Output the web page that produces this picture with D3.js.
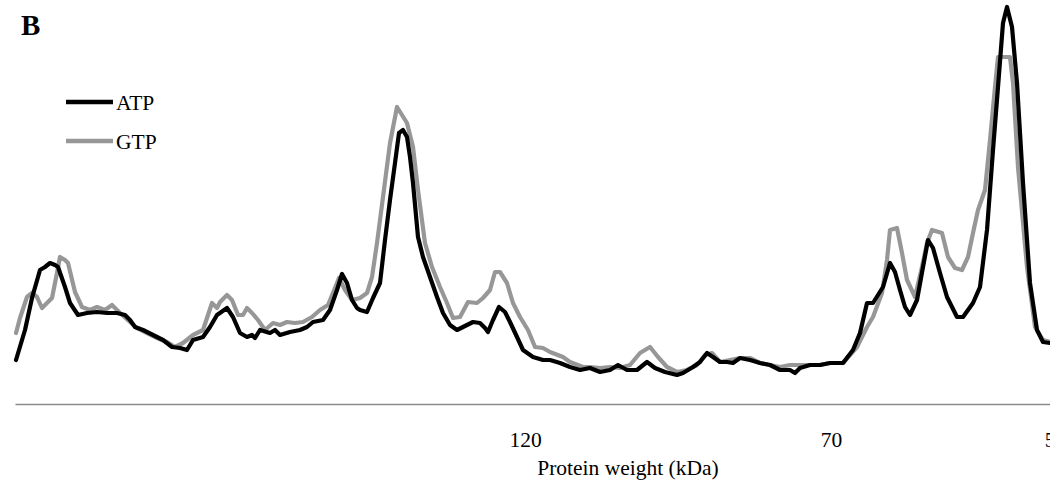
<!DOCTYPE html>
<html>
  <head>
    <meta charset="utf-8">
    <title>Protein weight profile</title>
<style>
body { margin: 0; background: #fff; }
svg text { font-family: "Liberation Serif", "Times New Roman", serif; fill: #000; }
.line { fill: none; stroke-width: 4.2px; stroke-linejoin: round; stroke-linecap: round; }
</style>
    <script src="https://d3js.org/d3.v7.min.js"></script>
  </head>
  <body>
    <script type="text/javascript">

    // lane position and intensity, per nucleotide
    var atpPos = [1,10,17,25,30,35,40,43,50,55,63,72,82,92,102,110,115,120,128,138,148,157,165,172,178,188,195,202,212,218,225,232,237,240,245,255,260,265,275,285,292,298,308,315,322,327,332,337,342,345,352,358,365,370,375,380,384,388,392,395,398,403,408,415,422,428,435,442,448,458,465,470,473,478,484,490,495,502,508,518,528,535,545,555,565,575,585,595,603,612,622,632,640,650,662,668,678,685,692,698,705,712,718,725,735,745,755,765,775,780,785,795,805,815,828,838,845,852,858,868,875,880,885,890,895,902,908,913,918,925,932,942,948,958,965,972,978,983,988,992,997,1002,1008,1015,1022,1028,1035];
    var atpVal = [44,74,106,134,137,141,139,137,117,101,89,91,92,91,91,89,84,77,74,69,64,57,56,54,64,67,77,89,96,87,71,67,69,66,74,71,74,69,72,74,77,82,84,94,114,130,121,104,96,94,92,106,121,164,204,241,271,274,267,247,221,167,147,127,107,91,79,74,77,82,81,76,72,84,97,92,82,67,54,47,44,44,41,37,34,36,32,34,39,34,34,42,36,32,29,31,37,42,51,47,42,42,41,46,44,41,39,34,34,31,36,39,39,41,41,54,71,101,101,117,141,132,114,97,89,104,137,164,156,131,107,87,87,101,117,174,254,317,381,397,377,321,221,121,74,62,61];

    var gtpPos = [1,5,12,17,22,27,32,37,42,45,50,53,60,67,75,82,90,97,105,115,122,132,142,152,160,168,178,188,197,202,205,212,217,223,228,232,237,243,250,258,265,272,280,288,297,305,313,320,324,330,337,345,352,357,362,368,375,382,387,392,398,403,410,417,425,432,438,445,453,462,468,475,480,485,492,498,505,513,520,528,535,548,555,568,575,585,595,605,615,625,635,643,652,662,672,682,690,697,705,715,725,735,745,755,765,775,785,795,805,815,828,842,852,858,867,872,875,882,887,892,900,907,912,917,927,933,940,947,953,958,963,970,975,980,983,995,998,1003,1012,1020,1028,1035];
    var gtpVal = [71,86,107,111,107,96,101,106,131,147,144,141,112,97,94,97,94,99,91,82,76,71,66,62,57,61,69,74,101,96,102,109,104,89,89,96,91,84,74,81,79,82,81,82,87,94,99,116,126,114,104,106,111,127,161,207,261,297,289,281,257,214,161,137,117,101,86,87,102,101,106,114,132,132,121,101,87,74,57,56,52,47,42,37,37,36,37,36,39,51,57,47,37,32,34,39,49,51,42,44,46,46,41,39,37,39,39,39,39,41,41,57,77,87,111,144,174,176,151,124,107,137,161,174,171,147,136,134,147,171,194,214,264,317,347,347,321,237,137,77,64,62];

    var tickPos = [510, 816, 1040];
    var tickLabels = ["120", "70", "50"];
    var seriesNames = ["ATP", "GTP"];
    var seriesColors = ["#000000", "#979797"];

    var width = 1050, height = 494;

    var x = d3.scaleLinear().domain([0, 1035]).range([15, 1050]);
    var y = d3.scaleLinear().domain([0, 400]).range([404, 4]);

    var svg = d3.select("body").append("svg")
      .attr("width", width)
      .attr("height", height);

    // x axis with the weight labels only
    var xAxis = svg.append("g")
      .attr("transform", "translate(0,404)")
      .call(d3.axisBottom(x)
        .tickValues(tickPos)
        .tickFormat(function(d, i) { return tickLabels[i]; })
        .tickSize(0)
        .tickSizeOuter(0)
        .tickPadding(28));
    xAxis.select(".domain").attr("stroke", "#8a8a8a").attr("stroke-width", 1.5);
    xAxis.selectAll("text")
      .style("font-family", '"Liberation Serif", "Times New Roman", serif')
      .style("font-size", "21.5px")
      .attr("fill", "#000");

    svg.append("text")
      .attr("x", 628)
      .attr("y", 475)
      .style("text-anchor", "middle")
      .style("font-size", "21.5px")
      .text("Protein weight (kDa)");

    var series = [
      { pos: gtpPos, val: gtpVal, color: seriesColors[1] },
      { pos: atpPos, val: atpVal, color: seriesColors[0] }
    ];

    var valueline = d3.line()
      .x(function(d) { return x(d[0]); })
      .y(function(d) { return y(d[1]); });

    // ATP drawn after GTP so it sits on top
    series.forEach(function(s) {
      svg.append("path")
        .datum(d3.zip(s.pos, s.val))
        .attr("class", "line")
        .attr("stroke", s.color)
        .attr("d", valueline);
    });

    // legend
    var legend = svg.append("g");
    seriesNames.forEach(function(name, i) {
      var ly = 102 + i * 39;
      legend.append("line")
        .attr("x1", 66).attr("x2", 113)
        .attr("y1", ly).attr("y2", ly)
        .attr("stroke", seriesColors[i])
        .attr("stroke-width", 4.5);
      legend.append("text")
        .attr("x", 116)
        .attr("y", ly + 8)
        .style("font-size", "21.5px")
        .text(name);
    });

    svg.append("text")
      .attr("x", 21)
      .attr("y", 35)
      .style("font-size", "29px")
      .style("font-weight", "bold")
      .text("B");

    </script>
  </body>
</html>
